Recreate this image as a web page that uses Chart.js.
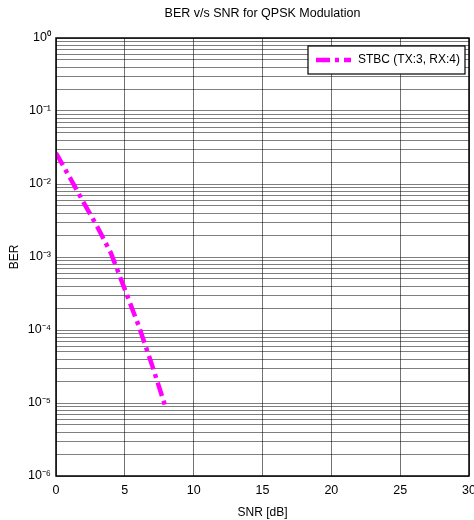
<!DOCTYPE html>
<html>
<head>
<meta charset="utf-8">
<script src="https://cdn.jsdelivr.net/npm/chart.js@4/dist/chart.umd.min.js"></script>
<style>
html,body{margin:0;padding:0;background:#fff;}
#wrap{width:474px;height:520px;position:relative;}
</style>
</head>
<body>
<div id="wrap"><canvas id="c" width="474" height="520"></canvas></div>
<script>
// ---- data ----
const snrDb = [0, 1, 2, 3, 4, 5, 6, 7, 8];
const berStbc = [2.66e-2, 1.23e-2, 5.6e-3, 2.6e-3, 1.12e-3, 3.6e-4, 1.15e-4, 3.2e-5, 8.3e-6];
const seriesLabel = 'STBC (TX:3, RX:4)';
const xTickValues = [0, 5, 10, 15, 20, 25, 30];
const yDecadeExponents = [-6, -5, -4, -3, -2, -1, 0];
const yDecadeLabels = ['10⁻⁶', '10⁻⁵', '10⁻⁴', '10⁻³', '10⁻²', '10⁻¹', '10⁰'];

const FONT = 'Arial, "Liberation Sans", Helvetica, sans-serif';
const MAGENTA = '#ff00ff';
const DASH = [14, 5, 4, 5];

const framePlugin = {
  id: 'frame',
  afterDraw(chart) {
    const {ctx, chartArea: a} = chart;
    ctx.save();
    ctx.strokeStyle = '#000';
    ctx.lineWidth = 1.5;
    ctx.strokeRect(a.left, a.top, a.right - a.left, a.bottom - a.top);
    // legend box inside the plot (top-right)
    const bw = 157, bh = 28;
    const bx = a.right - 4 - bw, by = a.top + 8;
    ctx.fillStyle = '#fff';
    ctx.fillRect(bx, by, bw, bh);
    ctx.lineWidth = 1.2;
    ctx.strokeRect(bx, by, bw, bh);
    const ds = chart.data.datasets[0];
    ctx.strokeStyle = ds.borderColor;
    ctx.lineWidth = ds.borderWidth;
    ctx.setLineDash(DASH);
    ctx.beginPath();
    ctx.moveTo(bx + 8, by + bh / 2);
    ctx.lineTo(bx + 43, by + bh / 2);
    ctx.stroke();
    ctx.setLineDash([]);
    ctx.fillStyle = '#000';
    ctx.font = '12px ' + FONT;
    ctx.textBaseline = 'middle';
    ctx.textAlign = 'left';
    ctx.fillText(ds.label, bx + 50, by + bh / 2);
    ctx.restore();
  }
};

new Chart(document.getElementById('c'), {
  type: 'line',
  data: {
    datasets: [{
      label: seriesLabel,
      data: snrDb.map((x, i) => ({x: x, y: berStbc[i]})),
      borderColor: MAGENTA,
      backgroundColor: MAGENTA,
      borderWidth: 4.5,
      borderDash: DASH,
      pointRadius: 0,
      tension: 0,
      fill: false
    }]
  },
  options: {
    responsive: false,
    animation: false,
    layout: {padding: {left: 0, right: 5, top: 0, bottom: 0}},
    plugins: {
      legend: {display: false},
      tooltip: {enabled: false},
      title: {
        display: true,
        fullSize: false,
        text: 'BER v/s SNR for QPSK Modulation',
        color: '#000',
        font: {family: FONT, size: 12.5, weight: 'normal'},
        padding: {top: 6, bottom: 17}
      }
    },
    scales: {
      x: {
        type: 'linear',
        min: 0, max: 30,
        afterBuildTicks(s) { s.ticks = xTickValues.map(v => ({value: v})); },
        afterFit(s) { s.height = 44; s.paddingLeft = 0; s.paddingRight = 0; },
        border: {display: false},
        grid: {color: 'rgba(0,0,0,0.55)', lineWidth: 1, drawTicks: false},
        ticks: {color: '#000', font: {family: FONT, size: 12.5}, padding: 7, maxRotation: 0,
                callback: v => String(v)},
        title: {display: true, text: 'SNR [dB]', color: '#000',
                font: {family: FONT, size: 12}, padding: {top: 0, bottom: 0}}
      },
      y: {
        type: 'logarithmic',
        min: 1e-6, max: 1,
        afterBuildTicks(s) {
          const t = [];
          yDecadeExponents.forEach(e => {
            const n = e === 0 ? 1 : 9;
            for (let m = 1; m <= n; m++) t.push({value: m * Math.pow(10, e)});
          });
          s.ticks = t;
        },
        afterFit(s) { s.width = 56; s.paddingTop = 0; s.paddingBottom = 0; },
        border: {display: false},
        grid: {color: 'rgba(0,0,0,0.5)', lineWidth: 1, drawTicks: false},
        ticks: {
          color: '#000', font: {family: FONT, size: 12.5}, padding: 5, autoSkip: false,
          callback(v) {
            const e = Math.log10(v);
            const r = Math.round(e);
            if (Math.abs(e - r) < 1e-9) {
              const k = yDecadeExponents.indexOf(r);
              return k >= 0 ? yDecadeLabels[k] : '';
            }
            return '';
          }
        },
        title: {display: true, text: 'BER', color: '#000',
                font: {family: FONT, size: 12}, padding: {top: 7, bottom: 0}}
      }
    }
  },
  plugins: [framePlugin]
});
</script>
</body>
</html>
